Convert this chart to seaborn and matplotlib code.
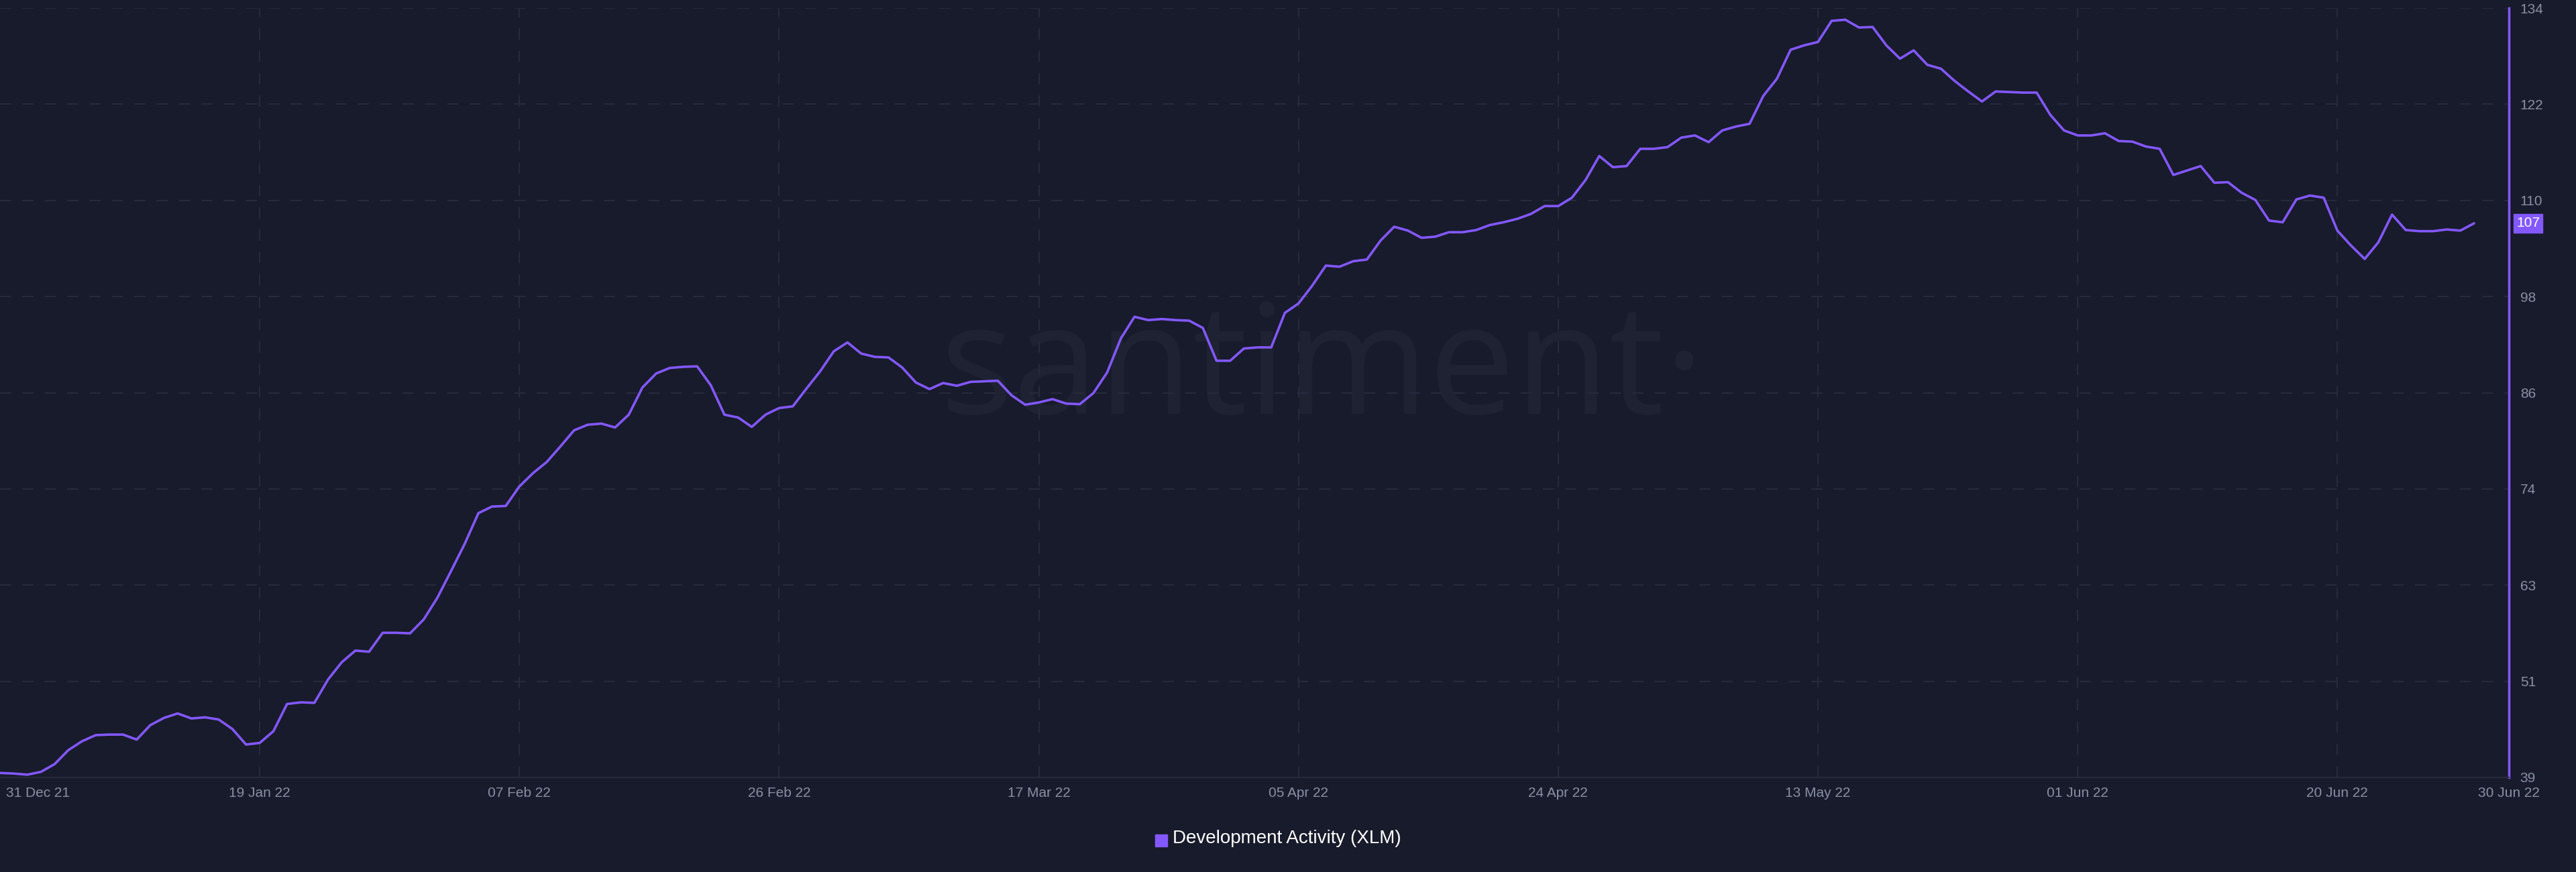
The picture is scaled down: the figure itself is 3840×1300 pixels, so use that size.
import numpy as np
import pandas as pd
import matplotlib
matplotlib.use("Agg")
import matplotlib.pyplot as plt
import matplotlib.dates as mdates
import seaborn as sns

start_date = "2021-12-31"
values = [39.55, 39.48, 39.34, 39.69, 40.65, 42.37, 43.47, 44.22, 44.29, 44.29,
          43.67, 45.46, 46.35, 46.90, 46.28, 46.42, 46.15, 44.98, 43.06, 43.26,
          44.70, 48.07, 48.27, 48.21, 51.09, 53.22, 54.66, 54.52, 56.86, 56.86,
          56.79, 58.51, 61.19, 64.49, 67.85, 71.63, 72.45, 72.52, 74.93, 76.58,
          77.95, 79.87, 81.86, 82.55, 82.69, 82.21, 83.79, 87.15, 88.87, 89.56,
          89.70, 89.76, 87.43, 83.79, 83.44, 82.28, 83.79, 84.61, 84.82, 87.01,
          89.14, 91.62, 92.71, 91.34, 90.93, 90.86, 89.62, 87.77, 86.95, 87.70,
          87.36, 87.84, 87.91, 87.98, 86.19, 85.02, 85.30, 85.71, 85.16, 85.09,
          86.47, 89.01, 93.20, 95.88, 95.47, 95.60, 95.47, 95.40, 94.50, 90.45,
          90.45, 91.96, 92.10, 92.10, 96.36, 97.53, 99.72, 102.20, 102.06, 102.74,
          102.95, 105.29, 107.00, 106.52, 105.63, 105.77, 106.32, 106.32, 106.59, 107.21,
          107.55, 107.97, 108.58, 109.55, 109.55, 110.58, 112.77, 115.73, 114.35, 114.49,
          116.62, 116.62, 116.83, 118.00, 118.27, 117.44, 118.89, 119.37, 119.71, 123.15,
          125.28, 128.85, 129.40, 129.81, 132.42, 132.56, 131.60, 131.66, 129.40, 127.75,
          128.78, 126.99, 126.51, 125.00, 123.70, 122.46, 123.70, 123.63, 123.56, 123.56,
          120.81, 118.89, 118.27, 118.27, 118.54, 117.58, 117.51, 116.90, 116.62, 113.39,
          113.94, 114.49, 112.43, 112.50, 111.19, 110.30, 107.76, 107.55, 110.37, 110.85,
          110.58, 106.52, 104.67, 103.02, 105.08, 108.50, 106.59, 106.45, 106.45, 106.66,
          106.52, 107.42]
x_tick_labels = ["31 Dec 21", "19 Jan 22", "07 Feb 22", "26 Feb 22", "17 Mar 22",
                 "05 Apr 22", "24 Apr 22", "13 May 22", "01 Jun 22", "20 Jun 22", "30 Jun 22"]
y_ticks = [39, 51, 63, 74, 86, 98, 110, 122, 134]
series_name = "Development Activity (XLM)"

dates = pd.date_range(start_date, periods=len(values), freq="D")
df = pd.DataFrame({"date": dates, "value": values})

BG = "#181b2b"
LINE = "#8358ff"
TXT = "#8990a3"
GRID = "#262a3c"

sns.set_style("dark")
plt.rcParams['font.family'] = ['Liberation Sans', 'DejaVu Sans']

fig = plt.figure(figsize=(38.4, 13), dpi=100, facecolor=BG)
ax = fig.add_axes([0, 1 - 1159/1300, 3740/3840, (1159 - 12)/1300])
ax.set_facecolor(BG)

# watermark
ax.text(0.527, 0.525, "santiment\u00b7", transform=ax.transAxes, ha="center", va="center",
        fontsize=165, color="#1e2233", zorder=0.5, family="Open Sans")

sns.lineplot(data=df, x="date", y="value", ax=ax, color=LINE, linewidth=2.6, zorder=3)

d0 = mdates.date2num(dates[0])
ax.set_xlim(d0, d0 + 183.55)
ax.set_ylim(39, 134)

grid_ticks = [d0 + 19 * k for k in range(1, 10)]
ax.set_xticks(grid_ticks)
ax.set_xticklabels(x_tick_labels[1:10])
ypos = np.linspace(39, 134, 9)
ax.set_yticks(ypos)
ax.set_yticklabels([str(v) for v in y_ticks])
ax.yaxis.tick_right()
ax.tick_params(axis="both", colors=TXT, labelsize=15, length=0, pad=10)
ax.tick_params(axis="y", pad=12)
ax.grid(True, color=GRID, linestyle=(0, (8, 8)), linewidth=1.5, zorder=1)
ax.set_axisbelow(True)
ax.set_xlabel("")
ax.set_ylabel("")
for s in ["top", "left"]:
    ax.spines[s].set_visible(False)
ax.spines["right"].set_color(LINE)
ax.spines["right"].set_linewidth(2.5)
ax.spines["bottom"].set_color(GRID)
ax.spines["bottom"].set_linewidth(1.5)

# end labels
ax.text(0.0025, -0.012, x_tick_labels[0], transform=ax.transAxes, ha="left", va="top",
        color=TXT, fontsize=15)
ax.text(1.0, -0.012, x_tick_labels[-1], transform=ax.transAxes, ha="center", va="top",
        color=TXT, fontsize=15)

# last value badge
last = values[-1]
ax.annotate(f"{round(last)}", xy=(1.0, last), xycoords=("axes fraction", "data"),
            xytext=(8, 0), textcoords="offset points", ha="left", va="center",
            color="white", fontsize=15,
            bbox=dict(boxstyle="square,pad=0.2", fc=LINE, ec=LINE))

# legend
fig.patches.append(plt.Rectangle((1722/3840, 1 - 1262/1300), 18/3840, 18/1300,
                                 transform=fig.transFigure, color=LINE))
fig.text(1748/3840, 1 - 1250/1300, series_name, ha="left", va="center",
         color="white", fontsize=20)

fig.savefig("out.png", dpi=100, facecolor=BG)
